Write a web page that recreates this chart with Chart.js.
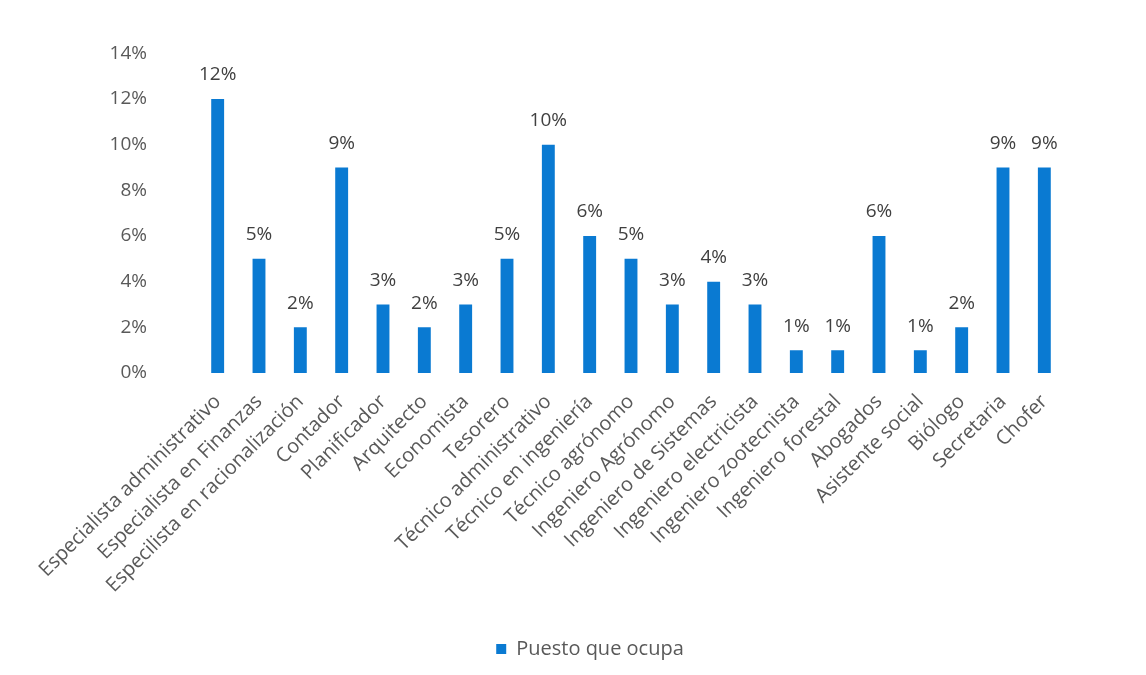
<!DOCTYPE html>
<html>
<head>
<meta charset="utf-8">
<script src="https://cdn.jsdelivr.net/npm/chart.js@4.4.1/dist/chart.umd.min.js"></script>
<style>
  html, body { margin: 0; padding: 0; background: #fff; }
</style>
</head>
<body>
<canvas id="puestos" width="1146" height="675"></canvas>
<script>
const puestos = [
    'Especialista administrativo', 'Especialista en Finanzas', 'Especilista en racionalización',
    'Contador', 'Planificador', 'Arquitecto', 'Economista', 'Tesorero',
    'Técnico administrativo', 'Técnico en ingeniería', 'Técnico agrónomo',
    'Ingeniero Agrónomo', 'Ingeniero de Sistemas', 'Ingeniero electricista',
    'Ingeniero zootecnista', 'Ingeniero forestal', 'Abogados', 'Asistente social',
    'Biólogo', 'Secretaria', 'Chofer'
];
const porcentajes = [12, 5, 2, 9, 3, 2, 3, 5, 10, 6, 5, 3, 4, 3, 1, 1, 6, 1, 2, 9, 9];
const ticksY = [0, 2, 4, 6, 8, 10, 12, 14];

const gris = '#595959';
const azul = '#0A7AD2';

// etiqueta con el valor encima de cada barra
const etiquetas = {
    id: 'etiquetas',
    afterDatasetsDraw(chart) {
        const ctx = chart.ctx;
        ctx.save();
        ctx.font = '19px "Open Sans"';
        ctx.fillStyle = '#404040';
        ctx.textAlign = 'center';
        ctx.textBaseline = 'middle';
        chart.getDatasetMeta(0).data.forEach((bar, i) => {
            ctx.fillText(porcentajes[i] + '%', bar.x, bar.y - 24);
        });
        ctx.restore();
    }
};

// la leyenda va un poco a la derecha del centro
const moverLeyenda = {
    id: 'moverLeyenda',
    afterLayout(chart) {
        chart.legend.left += 20;
        chart.legend.right += 20;
    }
};

let grafico = new Chart('puestos', {
    type: 'bar',
    data: {
        labels: puestos,
        datasets: [{
            label: 'Puesto que ocupa',
            data: porcentajes,
            backgroundColor: azul,
            barPercentage: 0.6,
            categoryPercentage: 0.52
        }]
    },
    plugins: [etiquetas, moverLeyenda],
    options: {
        responsive: false,
        animation: false,
        layout: {
            padding: { top: 49, left: 75, right: 81, bottom: 6 }
        },
        scales: {
            x: {
                grid: { display: false },
                border: { display: false },
                // las etiquetas giradas no deben empujar el área del gráfico
                afterFit(scale) {
                    scale.paddingLeft = 0;
                    scale.paddingRight = 0;
                    scale.height = 256;
                },
                ticks: {
                    color: gris,
                    font: { family: 'Open Sans', size: 20 },
                    minRotation: 45,
                    maxRotation: 45,
                    padding: 9
                }
            },
            y: {
                min: 0,
                max: 14,
                afterBuildTicks(axis) {
                    axis.ticks = ticksY.map(v => ({ value: v }));
                },
                afterFit(scale) {
                    scale.width = 122;
                },
                grid: { display: false },
                border: { display: false },
                ticks: {
                    color: gris,
                    font: { family: 'Open Sans', size: 19 },
                    padding: 42,
                    callback: v => v + '%'
                }
            }
        },
        plugins: {
            legend: {
                position: 'bottom',
                labels: {
                    color: gris,
                    font: { family: 'Open Sans', size: 20 },
                    boxWidth: 10,
                    boxHeight: 10,
                    padding: 10
                }
            },
            tooltip: { enabled: false }
        }
    }
});
</script>
</body>
</html>
